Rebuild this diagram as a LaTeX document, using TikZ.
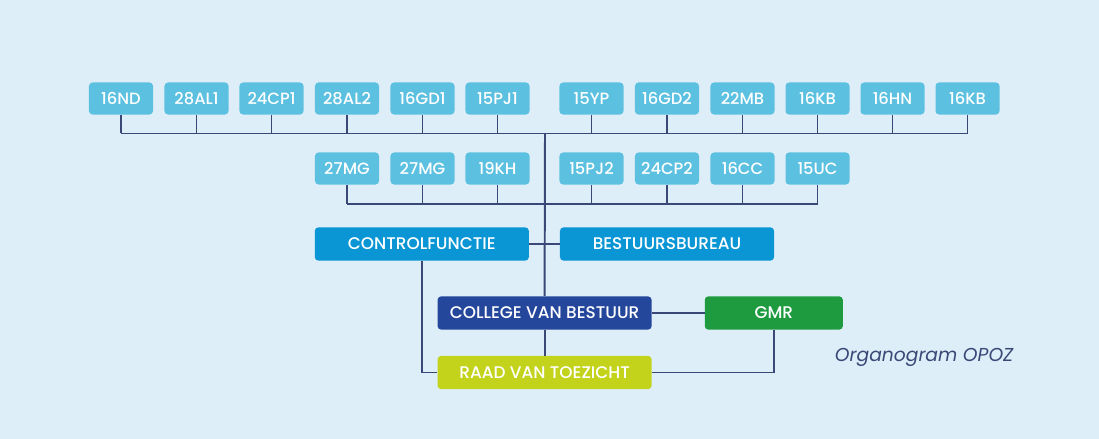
\documentclass[tikz,border=0pt]{standalone}
\usepackage{fontspec}
\setmainfont{Poppins}
\newfontfamily\boxfont{Poppins}[UprightFont=* Medium]
\usetikzlibrary{positioning}
\definecolor{achtergrond}{HTML}{DEEEF8}
\definecolor{teamblauw}{HTML}{5CC0E0}
\definecolor{stafblauw}{HTML}{0A96D4}
\definecolor{cvbblauw}{HTML}{25479B}
\definecolor{gmrgroen}{HTML}{1E9A3F}
\definecolor{rvtgeel}{HTML}{C3D31B}
\definecolor{lijn}{HTML}{3A4877}
\tikzset{
    team/.style={fill=teamblauw, text=white, rounded corners=2.5pt, minimum width=1.6cm, minimum height=0.8cm, inner sep=0pt, font=\boxfont\fontsize{11.6}{13}\selectfont},
    orgaan/.style={text=white, rounded corners=2.5pt, minimum width=5.35cm, minimum height=0.83cm, inner sep=0pt, font=\boxfont\fontsize{12}{14}\selectfont},
    verbinding/.style={draw=lijn, line width=1.4pt},
}

\begin{document}
\begin{tikzpicture}[x=0.025cm, y=-0.025cm]
\useasboundingbox (0,0) rectangle (1099,439);
\fill[achtergrond] (0,0) rectangle (1099,439);
% bovenste rij
\foreach \x/\lbl [count=\i] in {121/16ND, 196.5/28AL1, 271.5/24CP1, 347/28AL2, 422.5/16GD1, 497.5/15PJ1,
    591.5/15YP, 667/16GD2, 742.5/22MB, 817.5/16KB, 892.5/16HN, 967.5/16KB} {
    \node[team] (t\i) at (\x,98.5) {\lbl};
}
% tweede rij
\foreach \x/\lbl [count=\i] in {347/27MG, 422.5/27MG, 497.5/19KH,
    591.5/15PJ2, 667/24CP2, 742.5/16CC, 817.5/15UC} {
    \node[team] (m\i) at (\x,168.5) {\lbl};
}
% organen
\node[orgaan, fill=stafblauw] (cf) at (421.8,244) {CONTROLFUNCTIE};
\node[orgaan, fill=stafblauw] (bb) at (667,244) {BESTUURSBUREAU};
\node[orgaan, fill=cvbblauw] (cvb) at (544.6,313) {COLLEGE VAN BESTUUR};
\node[orgaan, fill=gmrgroen, minimum width=3.45cm] (gmr) at (773.8,313) {GMR};
\node[orgaan, fill=rvtgeel] (rvt) at (544.6,372.5) {RAAD VAN TOEZICHT};
\node[anchor=west, text=lijn, font=\itshape\fontsize{13.3}{15}\selectfont] (titel) at (830,357) {Organogram OPOZ};
% lijnen
\coordinate (bus1) at (545,133.5);
\coordinate (bus2) at (545,204);
\foreach \i in {1,...,12} {
    \draw[verbinding] (t\i.south) -- (t\i.south |- bus1);
}
\draw[verbinding] (t1.south |- bus1) -- (t12.south |- bus1);
\foreach \i in {1,...,7} {
    \draw[verbinding] (m\i.south) -- (m\i.south |- bus2);
}
\draw[verbinding] (m1.south |- bus2) -- (m7.south |- bus2);
\draw[verbinding] (bus1) -- (cvb.north);
\draw[verbinding] (cf.east) -- (bb.west);
\draw[verbinding] (cvb.east) -- (gmr.west);
\draw[verbinding] (cvb.south) -- (rvt.north);
\draw[verbinding] (cf.south) |- (rvt.west);
\draw[verbinding] (gmr.south) |- (rvt.east);
\end{tikzpicture}
\end{document}
